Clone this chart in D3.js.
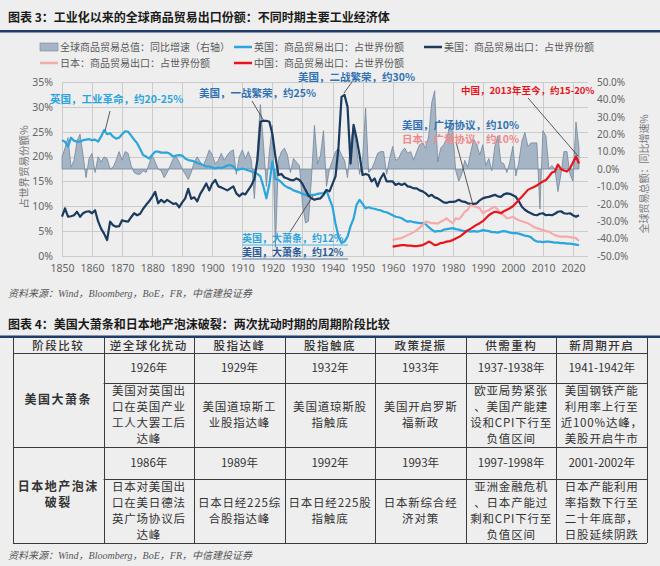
<!DOCTYPE html>
<html>
<head>
<meta charset="utf-8">
<script src="https://cdn.jsdelivr.net/npm/d3@7"></script>
<style>
  body { margin: 0; background: #eeeeee; }
  svg { display: block; font-family: "Noto Sans CJK SC", "Noto Sans", sans-serif; }
</style>
</head>
<body>
<svg id="fig" width="660" height="566"></svg>
<script>
// ---- chart data ----
var years = d3.range(1850, 2023);
var yearsAsia = d3.range(1960, 2023);

var ukShare = [
  23.3, 23.0, 22.0, 23.8, 23.2, 23.0, 23.0, 23.3, 23.4, 23.5,
  23.3, 23.4, 23.0, 24.0, 25.3, 24.5, 24.7, 24.0, 23.6, 23.8,
  24.5, 25.1, 25.0, 24.2, 23.4, 22.7, 21.5, 20.3, 20.0, 19.6,
  20.3, 21.0, 21.0, 20.8, 20.8, 20.8, 20.5, 20.0, 20.2, 20.3,
  20.2, 19.6, 19.3, 19.2, 19.0, 18.7, 18.5, 18.3, 18.0, 18.0,
  17.8, 17.6, 17.8, 17.7, 17.9, 18.2, 18.3, 18.0, 17.3, 17.4,
  17.6, 17.4, 17.2, 17.0, 16.8, 16.5, 16.0, 14.0, 11.6, 14.5,
  19.0, 15.5, 15.3, 14.8, 14.2, 13.8, 13.6, 13.2, 13.0, 12.8,
  12.5, 12.3, 12.0, 12.3, 12.3, 12.5, 12.6, 12.6, 13.2, 11.5,
  9.9, 6.5, 3.9, 2.6, 2.9, 3.9, 6.0, 7.5, 10.3, 11.3,
  10.5, 9.6, 9.8, 9.6, 9.5, 9.3, 9.2, 8.9, 8.8, 8.5,
  8.2, 7.9, 7.8, 7.6, 7.2, 6.9, 7.0, 6.8, 6.7, 6.6,
  6.6, 6.4, 5.8, 5.3, 4.9, 5.0, 5.0, 5.3, 5.4, 5.5,
  5.6, 5.4, 5.3, 5.1, 5.0, 5.0, 4.9, 5.0, 4.9, 5.0,
  5.2, 5.1, 5.0, 4.8, 4.8, 4.7, 4.9, 5.0, 4.9, 4.7,
  4.6, 4.6, 4.5, 4.3, 4.1, 4.0, 3.8, 3.2, 2.9, 2.9,
  2.8, 2.9, 2.9, 2.8, 2.7, 2.7, 2.6, 2.6, 2.5, 2.5,
  2.4, 2.3, 2.2
];

var usShare = [
  7.9, 9.6, 7.9, 8.0, 8.2, 8.9, 7.9, 8.6, 8.9, 9.0,
  8.6, 9.2, 7.0, 5.5, 4.5, 3.2, 6.9, 6.2, 5.9, 6.0,
  7.2, 7.0, 6.9, 7.8, 8.6, 8.2, 8.5, 9.5, 10.3, 11.0,
  11.9, 12.9, 10.6, 11.3, 10.8, 11.3, 10.9, 10.5, 10.6, 9.8,
  10.8, 11.6, 13.5, 11.5, 11.8, 11.0, 12.5, 13.5, 14.6, 13.2,
  14.6, 15.3, 14.0, 13.8, 13.5, 13.2, 13.6, 14.0, 12.6, 12.0,
  12.6, 12.4, 13.3, 14.2, 15.5, 19.3, 27.0, 27.2, 27.2, 27.0,
  24.5, 20.0, 16.3, 16.5, 15.8, 15.6, 15.3, 15.2, 15.6, 15.3,
  14.5, 13.3, 12.2, 11.6, 11.3, 11.5, 11.6, 12.3, 13.3, 13.0,
  14.5, 16.0, 22.0, 32.0, 32.4, 30.0, 18.6, 26.4, 23.7, 20.3,
  16.3, 16.5, 16.3, 15.0, 15.6, 14.0, 15.6, 16.6, 15.0, 15.0,
  15.0, 14.3, 14.6, 14.3, 14.6, 14.0, 13.9, 13.6, 13.6, 13.2,
  13.0, 12.6, 12.0, 12.3, 11.8, 11.6, 11.2, 10.8, 10.7, 10.9,
  10.9, 11.0, 11.3, 11.0, 10.9, 10.6, 10.5, 10.5, 10.6, 11.2,
  11.6, 11.8, 11.9, 12.1, 12.3, 12.0, 11.9, 12.4, 12.6, 12.5,
  12.2, 11.9, 11.0, 9.9, 9.3, 8.9, 8.6, 8.3, 8.2, 8.5,
  8.6, 8.2, 8.3, 8.2, 8.5, 8.9, 9.0, 8.6, 8.5, 8.6,
  8.2, 7.9, 8.2
];

var jpShare = [
  3.2, 3.4, 3.5, 3.6, 3.9, 4.2, 4.5, 4.8, 5.2, 5.7,
  6.2, 6.9, 6.8, 6.6, 6.6, 6.5, 6.9, 7.2, 7.6, 7.0,
  6.6, 7.6, 7.4, 8.0, 8.9, 9.3, 10.3, 10.0, 9.8, 9.6,
  8.6, 9.0, 9.2, 9.6, 9.9, 9.3, 8.6, 8.2, 7.6, 7.7,
  7.9, 7.5, 7.2, 7.0, 6.8, 6.6, 6.2, 5.8, 5.6, 5.4,
  5.2, 5.0, 4.9, 4.5, 4.2, 4.0, 3.9, 3.9, 3.9, 3.8,
  3.7, 3.6, 3.0
];

var cnShare = [
  1.9, 2.0, 2.1, 2.2, 2.2, 2.1, 2.1, 2.0, 2.0, 2.1,
  2.2, 2.5, 2.9, 2.6, 2.2, 2.3, 2.6, 2.7, 2.9, 3.0,
  3.2, 3.5, 3.8, 4.2, 4.7, 5.2, 5.5, 5.9, 6.3, 6.6,
  7.0, 7.6, 8.2, 8.6, 8.9, 8.8, 8.6, 9.0, 9.3, 9.6,
  10.0, 10.6, 11.3, 11.9, 12.6, 13.3, 13.6, 13.9, 14.2, 14.6,
  15.0, 15.3, 16.0, 16.8, 17.0, 18.4, 17.5, 17.2, 17.0, 17.6,
  18.8, 20.0, 18.6
];

// global goods trade, yoy growth (right axis)
var tradeGrowth = [
  7, 12, 18, 1, 5, 16, 20, 8, -5, 6,
  9, -2, 7, 4, 7, 6, 0, 1, 5, 10,
  5, 10, 9, 2, -2, -3, -3, -1, -2, 3,
  8, 4, 0, -1, -5, -2, 2, 6, 7, 4,
  0, -3, -6, -2, 4, 7, 4, 2, 6, 11,
  8, 3, 5, 9, 5, 8, 10, 11, -3, 7,
  11, 6, 10, 5, -17, 10, 37, 15, -10, 10,
  25, -45, 5, 10, 12, 8, -2, 6, 4, 2,
  -20, -31, -30, -5, 25, 3, 8, 22, -10, 0,
  5, 10, 12, 8, 5, -5, 15, 25, 12, -3,
  5, 35, -2, 0, 4, 9, 10, 10, -3, 6,
  13, 5, 6, 10, 12, 9, 10, 5, 10, 14,
  15, 12, 19, 38, 45, 4, 12, 14, 17, 25,
  21, -1, -7, -3, 5, 1, 10, 17, 14, 8,
  14, 2, 6, -1, 13, 19, 4, 3, -2, 4,
  13, -4, 4, 16, 21, 13, 15, 15, 15, -23,
  22, 19, 0, 2, 0, -13, -3, 10, 10, -3,
  -7, 27, 12
];

var xTicks = d3.range(1850, 2021, 10);
var leftTicks = [0, 5, 10, 15, 20, 25, 30, 35];
var rightTicks = [-50, -40, -30, -20, -10, 0, 10, 20, 30, 40, 50];

var legendNames = [
  '全球商品贸易总值：同比增速（右轴）',
  '英国：商品贸易出口：占世界份额',
  '美国：商品贸易出口：占世界份额',
  '日本：商品贸易出口：占世界份额',
  '中国：商品贸易出口：占世界份额'
];

// ---- table data ----
var tableHeader = ['阶段比较', '逆全球化扰动', '股指达峰', '股指触底', '政策提振', '供需重构', '新周期开启'];
var episodeNames = [['美国大萧条'], ['日本地产泡沫', '破裂']];
var usYears = ['1926年', '1929年', '1932年', '1933年', '1937-1938年', '1941-1942年'];
var usEvents = [
  ['美国对英国出', '口在英国产业', '工人大罢工后', '达峰'],
  ['美国道琼斯工', '业股指达峰'],
  ['美国道琼斯股', '指触底'],
  ['美国开启罗斯', '福新政'],
  ['欧亚局势紧张', '、美国产能建', '设和CPI下行至', '负值区间'],
  ['美国钢铁产能', '利用率上行至', '近100%达峰，', '美股开启牛市']
];
var jpYears = ['1986年', '1989年', '1992年', '1993年', '1997-1998年', '2001-2002年'];
var jpEvents = [
  ['日本对美国出', '口在美日德法', '英广场协议后', '达峰'],
  ['日本日经225综', '合股指达峰'],
  ['日本日经225股', '指触底'],
  ['日本新综合经', '济对策'],
  ['亚洲金融危机', '、日本产能过', '剩和CPI下行至', '负值区间'],
  ['日本产能利用', '率指数下行至', '二十年底部，', '日股延续阴跌']
];

var sourceText = '资料来源：Wind，Bloomberg，BoE，FR，中信建投证券';

// ---- colours ----
var cUK = '#2aa5dd', cUS = '#1b3b5e', cJP = '#f3abab', cCN = '#e8141c';
var cArea = '#a6b5c5', cAreaEdge = '#71879c';
var navy = '#1f3c68';

var svg = d3.select('#fig');

// ================= chart 3 =================
svg.append('text')
  .attr('x', 8).attr('y', 22)
  .attr('font-size', 12).attr('font-weight', 'bold').attr('fill', '#1a1a1a')
  .text('图表 3：工业化以来的全球商品贸易出口份额：不同时期主要工业经济体');
svg.append('rect').attr('x', 0).attr('y', 30).attr('width', 660).attr('height', 2.5).attr('fill', navy);

var x  = d3.scaleLinear().domain([1850, 2025]).range([62, 588]);
var yL = d3.scaleLinear().domain([0, 35]).range([256, 82]);
var yR = d3.scaleLinear().domain([-50, 50]).range([256, 82]);

// grid
var grid = svg.append('g').attr('stroke', '#cbcbcb').attr('stroke-width', 1);
grid.selectAll('.hg').data(leftTicks).enter().append('line')
  .attr('x1', x(1850)).attr('x2', x(2025))
  .attr('y1', function (d) { return Math.round(yL(d)) + 0.5; })
  .attr('y2', function (d) { return Math.round(yL(d)) + 0.5; });
grid.selectAll('.vg').data(xTicks).enter().append('line')
  .attr('x1', function (d) { return Math.round(x(d)) + 0.5; })
  .attr('x2', function (d) { return Math.round(x(d)) + 0.5; })
  .attr('y1', yL(35)).attr('y2', yL(0));

// axes
function styleAxis(g) {
  g.select('.domain').remove();
  g.selectAll('text').attr('fill', '#666').attr('font-size', 10.5)
    .attr('font-family', '"Noto Sans", "Noto Sans CJK SC", sans-serif');
}
svg.append('g').attr('transform', 'translate(56,0)')
  .call(d3.axisLeft(yL).tickValues(leftTicks).tickSize(0).tickFormat(function (d) { return d + '%'; }))
  .call(styleAxis);
svg.append('g').attr('transform', 'translate(594,0)')
  .call(d3.axisRight(yR).tickValues(rightTicks).tickSize(0).tickFormat(function (d) { return d.toFixed(1) + '%'; }))
  .call(styleAxis)
  .call(function (g) { g.selectAll('text').attr('font-size', 10); });
svg.append('g').attr('transform', 'translate(0,262)')
  .call(d3.axisBottom(x).tickValues(xTicks).tickSize(0).tickFormat(d3.format('d')))
  .call(styleAxis);

// axis titles
svg.append('text')
  .attr('transform', 'translate(28,167) rotate(-90)')
  .attr('text-anchor', 'middle').attr('font-size', 10.5).attr('fill', '#777')
  .text('占世界贸易份额%');
svg.append('text')
  .attr('transform', 'translate(648,174) rotate(-90)')
  .attr('text-anchor', 'middle').attr('font-size', 10).attr('fill', '#777')
  .text('全球贸易总额：同比增速%');

// area (right axis)
var tradeData = years.map(function (yr, i) { return { year: yr, value: tradeGrowth[i] }; });
var area = d3.area()
  .x(function (d) { return x(d.year); })
  .y0(yR(0))
  .y1(function (d) { return yR(d.value); });
svg.append('path').datum(tradeData)
  .attr('d', area).attr('fill', cArea).attr('stroke', cAreaEdge).attr('stroke-width', 0.8);

// lines (left axis)
var line = d3.line()
  .x(function (d) { return x(d.year); })
  .y(function (d) { return yL(d.value); });

function pairs(yrs, vals) {
  return yrs.map(function (yr, i) { return { year: yr, value: vals[i] }; });
}
var series = [
  { data: pairs(years, ukShare), color: cUK },
  { data: pairs(years, usShare), color: cUS },
  { data: pairs(yearsAsia, jpShare), color: cJP },
  { data: pairs(yearsAsia, cnShare), color: cCN }
];
svg.selectAll('.series').data(series).enter().append('path')
  .attr('class', 'series')
  .attr('d', function (d) { return line(d.data); })
  .attr('fill', 'none')
  .attr('stroke', function (d) { return d.color; })
  .attr('stroke-width', 2.2)
  .attr('stroke-linejoin', 'round');

// legend
var legendPos = [
  { x: 40, y: 47, kind: 'box', color: cArea },
  { x: 234, y: 47, kind: 'line', color: cUK },
  { x: 424, y: 47, kind: 'line', color: cUS },
  { x: 40, y: 63, kind: 'line', color: cJP },
  { x: 234, y: 63, kind: 'line', color: cCN }
];
var leg = svg.selectAll('.leg').data(legendPos).enter().append('g')
  .attr('transform', function (d) { return 'translate(' + d.x + ',' + d.y + ')'; });
leg.each(function (d) {
  var g = d3.select(this);
  if (d.kind === 'box') {
    g.append('rect').attr('x', 0).attr('y', -4).attr('width', 18).attr('height', 8)
      .attr('fill', d.color).attr('stroke', cAreaEdge).attr('stroke-width', 0.6);
  } else {
    g.append('line').attr('x1', 0).attr('x2', 18).attr('y1', 0).attr('y2', 0)
      .attr('stroke', d.color).attr('stroke-width', 2.5);
  }
});
leg.append('text')
  .attr('x', 20).attr('dy', '0.35em')
  .attr('font-size', 10).attr('fill', '#595959')
  .text(function (d, i) { return legendNames[i]; });

// annotations
var notes = [
  { text: '英国，工业革命，约20-25%', x: 50, y: 99, color: cUK, size: 10.5 },
  { text: '美国，一战繁荣，约25%', x: 199, y: 93, color: '#2e72b3', size: 10.5 },
  { text: '美国，二战繁荣，约30%', x: 298, y: 77, color: '#2e72b3', size: 10.5 },
  { text: '美国，广场协议，约10%', x: 402, y: 125, color: '#2e72b3', size: 10.5 },
  { text: '日本，广场协议，约10%', x: 402, y: 139, color: '#ef8a8a', size: 10.5 },
  { text: '中国，2013年至今，约15-20%', x: 461, y: 91, color: cCN, size: 9.5 },
  { text: '英国，大萧条，约12%', x: 242, y: 238, color: cUK, size: 10 },
  { text: '美国，大萧条，约12%', x: 242, y: 252, color: '#2a5a95', size: 10 }
];
var leaders = [
  [110, 111, 105, 131],
  [252, 101, 264, 121],
  [352, 82, 344, 93],
  [456, 142, 473, 205],
  [528, 98, 578, 156],
  [290, 232, 313, 196]
];
svg.selectAll('.leader').data(leaders).enter().append('line')
  .attr('x1', function (d) { return d[0]; }).attr('y1', function (d) { return d[1]; })
  .attr('x2', function (d) { return d[2]; }).attr('y2', function (d) { return d[3]; })
  .attr('stroke', '#333').attr('stroke-width', 0.8);
svg.selectAll('.note').data(notes).enter().append('text')
  .attr('x', function (d) { return d.x; }).attr('y', function (d) { return d.y; })
  .attr('dy', '0.35em')
  .attr('font-size', function (d) { return d.size; }).attr('font-weight', 'bold')
  .attr('fill', function (d) { return d.color; })
  .text(function (d) { return d.text; });
// underline of the two depression notes
svg.selectAll('.uline').data(notes.slice(6)).enter().append('line')
  .attr('x1', function (d) { return d.x; }).attr('x2', function (d) { return d.x + 106; })
  .attr('y1', function (d) { return d.y + 7; }).attr('y2', function (d) { return d.y + 7; })
  .attr('stroke', function (d) { return d.color; }).attr('stroke-width', 0.8);

svg.append('text')
  .attr('x', 8).attr('y', 297)
  .attr('font-size', 10).attr('font-style', 'italic').attr('fill', '#555')
  .attr('font-family', '"Liberation Serif", "Noto Sans CJK SC", serif')
  .text(sourceText);

// ================= chart 4 (table) =================
svg.append('text')
  .attr('x', 8).attr('y', 329)
  .attr('font-size', 12).attr('font-weight', 'bold').attr('fill', '#1a1a1a')
  .text('图表 4：美国大萧条和日本地产泡沫破裂：两次扰动时期的周期阶段比较');
svg.append('rect').attr('x', 0).attr('y', 335.5).attr('width', 660).attr('height', 2.5).attr('fill', navy);

var col = d3.scaleBand().domain(tableHeader).range([13, 647]);
var rowY = [338, 353, 383, 447, 479, 543];
var tbl = svg.append('g');
var border = '#3a3a3a';

// horizontal rules
[[rowY[1], 13], [rowY[2], col(tableHeader[1])], [rowY[3], 13], [rowY[4], col(tableHeader[1])], [rowY[5], 13]]
  .forEach(function (r) {
    tbl.append('line').attr('x1', r[1]).attr('x2', 647)
      .attr('y1', Math.round(r[0]) + 0.5).attr('y2', Math.round(r[0]) + 0.5)
      .attr('stroke', border).attr('stroke-width', 1);
  });
// vertical rules
var vx = tableHeader.map(function (h) { return col(h); }).concat([647]);
tbl.selectAll('.vr').data(vx).enter().append('line')
  .attr('x1', function (d) { return Math.round(d) + 0.5; })
  .attr('x2', function (d) { return Math.round(d) + 0.5; })
  .attr('y1', rowY[0]).attr('y2', rowY[5])
  .attr('stroke', border).attr('stroke-width', 1);

var cellFont = 11.5;
function cellText(cx, top, bottom, lines, opts) {
  opts = opts || {};
  var lh = 16;
  var mid = (top + bottom) / 2;
  var start = mid - (lines.length - 1) * lh / 2;
  lines.forEach(function (s, i) {
    tbl.append('text')
      .attr('x', cx).attr('y', start + i * lh).attr('dy', '0.36em')
      .attr('text-anchor', 'middle')
      .attr('font-size', opts.size || cellFont)
      .attr('font-weight', opts.weight || 'normal')
      .attr('letter-spacing', opts.spacing == null ? 0.8 : opts.spacing)
      .attr('fill', '#333')
      .text(s);
  });
}

var bw = col.bandwidth();
tableHeader.forEach(function (h) {
  cellText(col(h) + bw / 2, rowY[0], rowY[1], [h], { spacing: 1.5, weight: 500 });
});
cellText(col(tableHeader[0]) + bw / 2, rowY[1], rowY[3], episodeNames[0], { weight: 'bold', spacing: 1.5, size: 12 });
cellText(col(tableHeader[0]) + bw / 2, rowY[3], rowY[5], episodeNames[1], { weight: 'bold', spacing: 1.5, size: 12 });
tableHeader.slice(1).forEach(function (h, i) {
  var cx = col(h) + bw / 2;
  cellText(cx, rowY[1], rowY[2], [usYears[i]], { spacing: 0 });
  cellText(cx, rowY[2], rowY[3], usEvents[i]);
  cellText(cx, rowY[3], rowY[4], [jpYears[i]], { spacing: 0 });
  cellText(cx, rowY[4], rowY[5], jpEvents[i]);
});

svg.append('text')
  .attr('x', 8).attr('y', 559)
  .attr('font-size', 10).attr('font-style', 'italic').attr('fill', '#555')
  .attr('font-family', '"Liberation Serif", "Noto Sans CJK SC", serif')
  .text(sourceText);
</script>
</body>
</html>
